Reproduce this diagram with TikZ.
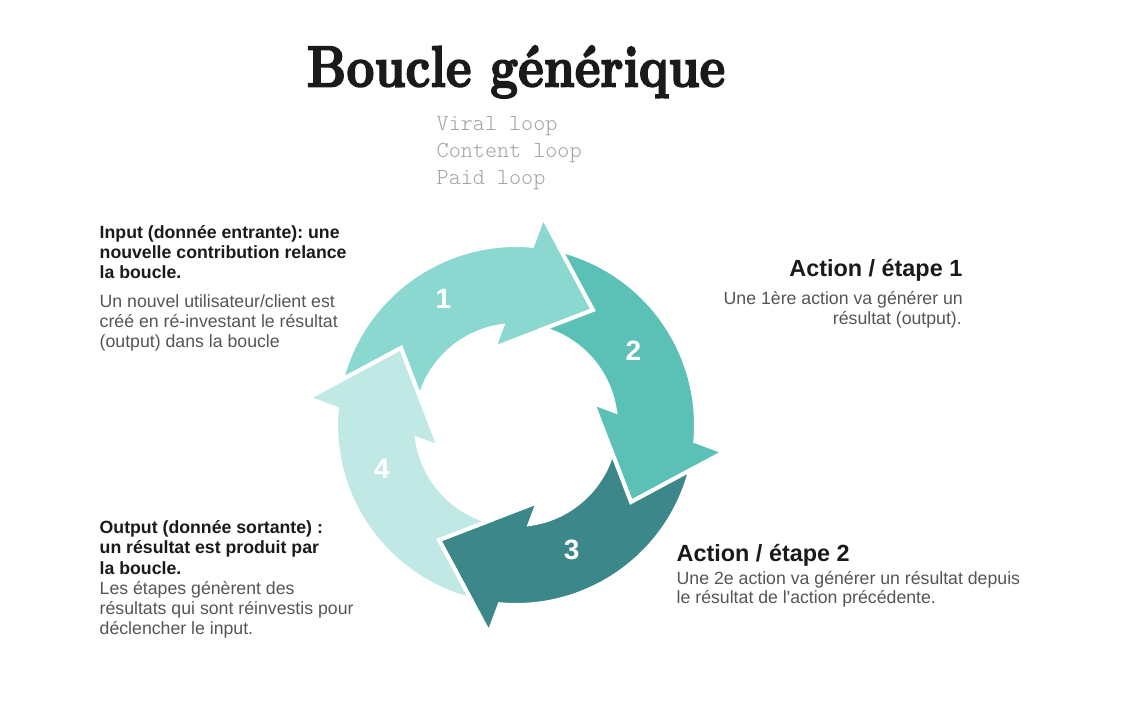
\documentclass[tikz,border=0pt]{standalone}
\usepackage{fontspec}
\usepackage{graphicx}
\setmainfont{Liberation Sans}[Ligatures=TeXOff]
\newfontfamily\titlefont{lmroman10-bold}[Extension=.otf, FakeBold=3]
\newfontfamily\slabfont{Latin Modern Mono Light}
\definecolor{cA}{HTML}{8BD8D1}
\definecolor{cB}{HTML}{5BC0B6}
\definecolor{cC}{HTML}{3C878A}
\definecolor{cD}{HTML}{C0E9E6}
\definecolor{ink}{HTML}{1A1A1A}
\definecolor{bodygrey}{HTML}{555555}
\definecolor{subgrey}{HTML}{A3A3A3}
\frenchspacing
\tikzset{
  bodyb/.style={font=\fontsize{17.7}{20}\selectfont\bfseries, text=ink, inner sep=0pt},
  bodyr/.style={font=\fontsize{17.7}{20}\selectfont, text=bodygrey, inner sep=0pt},
  headtxt/.style={font=\fontsize{23.4}{28}\selectfont\bfseries, text=ink, inner sep=0pt},
  numtxt/.style={font=\fontsize{28}{28}\selectfont\bfseries, text=white, inner sep=0pt},
  subtxt/.style={font=\slabfont\fontsize{23}{27}\selectfont, text=subgrey, inner sep=0pt, anchor=base west},
  ringpiece/.style={draw=white, line width=4pt, line join=miter},
}
\begin{document}
\begin{tikzpicture}[x=1pt,y=1pt]
\useasboundingbox (0,0) rectangle (1142,718);
\fill[white] (0,0) rectangle (1142,718);

% ring of four arrows
\coordinate (c) at (516,293);
\foreach \r/\col in {0/cA,-90/cB,-180/cC,-270/cD}{
  \begin{scope}[shift={(c)}, rotate=\r]
    \path[ringpiece, fill=\col]
      (165.47:180) arc[start angle=165.47, end angle=84.82, radius=180]
      -- (27,208) -- (77,115) -- (-22,77)
      -- (97.9:100) arc[start angle=97.9, end angle=163.91, radius=100]
      -- (-115,77) -- cycle;
  \end{scope}
}

% numbers
\node[numtxt] (n1) at (443.3,419) {1};
\node[numtxt] (n2) at (633.3,367.3) {2};
\node[numtxt] (n3) at (571.7,168) {3};
\node[numtxt] (n4) at (381.7,248.7) {4};

% title
\node[anchor=base west, inner sep=0pt, text=ink] (title) at (306.5,631.5)
  {\resizebox{418.5pt}{\height}{\titlefont\fontsize{58}{60}\selectfont Boucle générique}};

% subtitle
\node[subtxt] (s1) at (436.5,587) {Viral loop};
\node[subtxt] (s2) at (436.5,560) {Content loop};
\node[subtxt] (s3) at (436.5,533) {Paid loop};

% block top-left
\node[bodyb, anchor=base west] (a1) at (99.5,479) {Input (donnée entrante): une};
\node[bodyb, anchor=base west] (a2) at (99.5,459) {nouvelle contribution relance};
\node[bodyb, anchor=base west] (a3) at (99.5,439) {la boucle.};
\node[bodyr, anchor=base west] (a4) at (99.5,410) {Un nouvel utilisateur/client est};
\node[bodyr, anchor=base west] (a5) at (99.5,390) {créé en ré-investant le résultat};
\node[bodyr, anchor=base west] (a6) at (99.5,370) {(output) dans la boucle};

% block bottom-left
\node[bodyb, anchor=base west] (b1) at (99.5,185) {Output (donnée sortante) :};
\node[bodyb, anchor=base west] (b2) at (99.5,164.5) {un résultat est produit par};
\node[bodyb, anchor=base west] (b3) at (99.5,144) {la boucle.};
\node[bodyr, anchor=base west] (b4) at (99.5,124) {Les étapes génèrent des};
\node[bodyr, anchor=base west] (b5) at (99.5,104) {résultats qui sont réinvestis pour};
\node[bodyr, anchor=base west] (b6) at (99.5,84) {déclencher le input.};

% block right top
\node[headtxt, anchor=base east] (r1) at (962.5,441.5) {Action / étape 1};
\node[bodyr, anchor=base east] (r2) at (963,413.7) {Une 1ère action va générer un};
\node[bodyr, anchor=base east] (r3) at (962,393.3) {résultat (output).};

% block right bottom
\node[headtxt, anchor=base west] (q1) at (676.5,156.3) {Action / étape 2};
\node[bodyr, anchor=base west] (q2) at (676.5,134) {Une 2e action va générer un résultat depuis};
\node[bodyr, anchor=base west] (q3) at (676.5,114.5) {le résultat de l'action précédente.};
\end{tikzpicture}
\end{document}
